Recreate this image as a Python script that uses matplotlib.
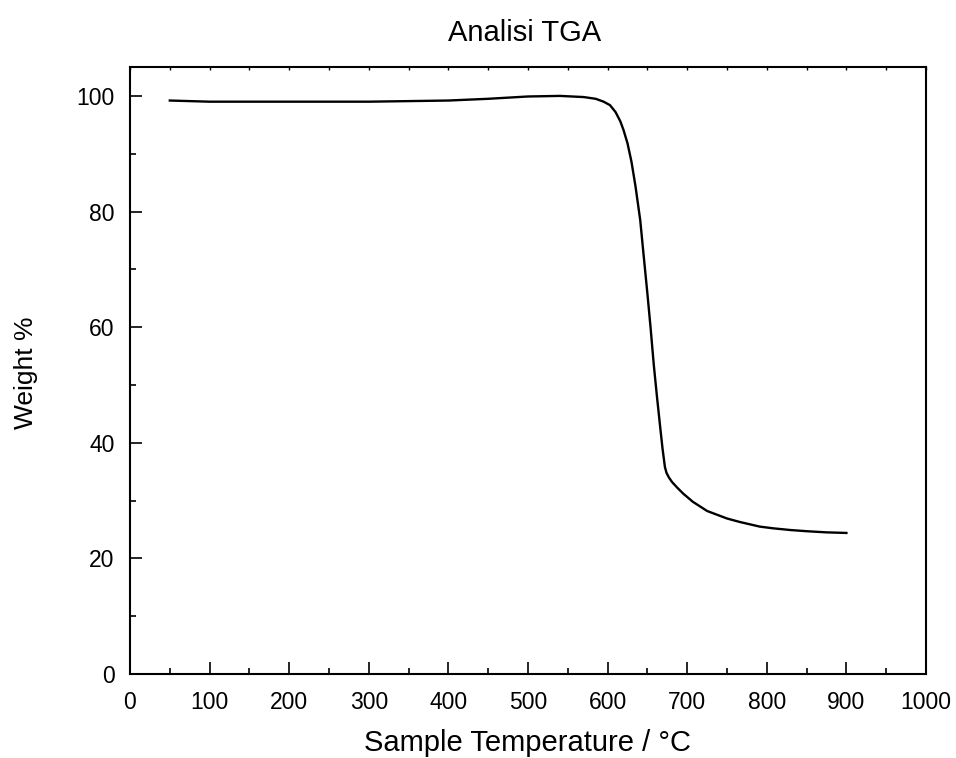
import matplotlib
matplotlib.use("Agg")
import matplotlib.pyplot as plt
from matplotlib.ticker import MultipleLocator

plt.rcParams['font.family'] = ['Liberation Sans', 'DejaVu Sans']

# TGA curve
temp = [50, 100, 150, 200, 250, 300, 350, 400, 450, 500, 540, 570, 585, 595, 603,
        610, 616, 620, 625, 630, 635, 641, 645, 650, 654, 658, 662, 666, 669, 672,
        674, 677, 681, 687, 695, 707, 725, 750, 766, 791, 808, 830, 850, 875, 900]
weight = [99.2, 99.0, 99.0, 99.0, 99.0, 99.0, 99.1, 99.2, 99.5, 99.9, 100.0, 99.8, 99.5, 99.0, 98.4,
          97.2, 95.6, 94.1, 91.8, 88.6, 84.4, 78.5, 72.8, 65.8, 59.9, 53.5, 48.0, 42.8, 39.0, 35.8,
          34.8, 34.0, 33.2, 32.3, 31.2, 29.8, 28.2, 26.9, 26.3, 25.5, 25.2, 24.9, 24.7, 24.5, 24.4]

title = "Analisi TGA"
xlabel = "Sample Temperature / °C"
ylabel = "Weight %"

fig = plt.figure(figsize=(9.56, 7.58), dpi=100)
ax = fig.add_axes([130/956, 1-674/758, 796/956, 607/758])

ax.plot(temp, weight, color='black', lw=1.7, solid_joinstyle='round')

ax.set_xlim(0, 1000)
ax.set_ylim(0, 105)
ax.xaxis.set_major_locator(MultipleLocator(100))
ax.xaxis.set_minor_locator(MultipleLocator(50))
ax.yaxis.set_major_locator(MultipleLocator(20))
ax.yaxis.set_minor_locator(MultipleLocator(10))
ax.tick_params(which='both', direction='in', width=1.2, labelsize=16.5)
ax.tick_params(which='major', length=8.5)
ax.tick_params(which='minor', length=4.5)
ax.tick_params(axis='x', pad=12)
ax.tick_params(axis='y', pad=11)

for s in ax.spines.values():
    s.set_linewidth(1.5)

# tiny ticks along top frame
top = ax.secondary_xaxis('top')
top.xaxis.set_major_locator(MultipleLocator(50))
top.tick_params(direction='in', length=2, width=1, labeltop=False)
top.spines['top'].set_visible(False)

fig.text(528/956, 1 - 751/758, xlabel, ha='center', va='baseline', fontsize=21)
fig.text(33/956, 1 - 373/758, ylabel, ha='center', va='baseline', fontsize=19,
         rotation=90, rotation_mode='anchor')
fig.text(525/956, 1 - 41/758, title, ha='center', va='baseline', fontsize=21)

fig.savefig("out.png", dpi=100)
